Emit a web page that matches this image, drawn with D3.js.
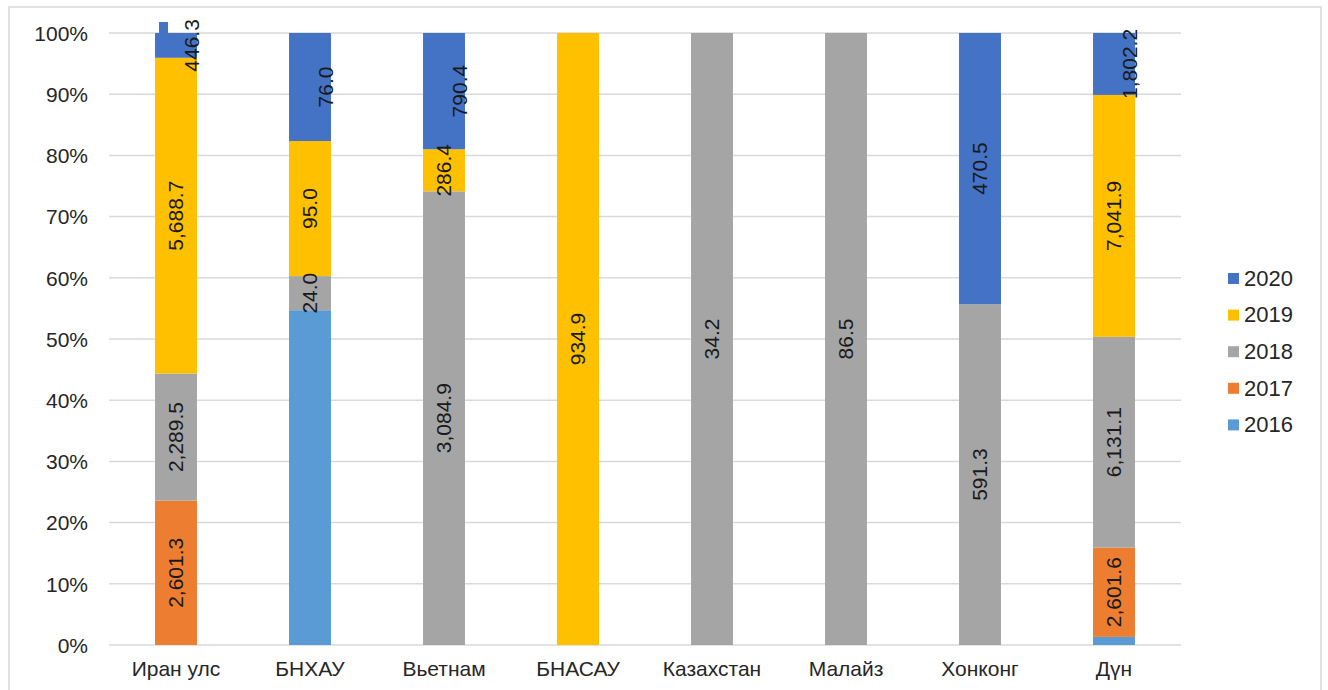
<!DOCTYPE html>
<html>
<head>
<meta charset="utf-8">
<script src="https://cdn.jsdelivr.net/npm/d3@7"></script>
<style>
  html, body { margin: 0; padding: 0; background: #fff; }
  svg { display: block; font-family: "Liberation Sans", Arial, sans-serif; }
</style>
</head>
<body>
<svg id="chart" width="1328" height="690"></svg>
<script>
// ---- data ----
const categories = ["Иран улс", "БНХАУ", "Вьетнам", "БНАСАУ", "Казахстан", "Малайз", "Хонконг", "Дүн"];
const seriesNames = ["2016", "2017", "2018", "2019", "2020"];
const v2016 = [0, 235.5, 0, 0, 0, 0, 0, 235.5];
const v2017 = [2601.3, 0, 0, 0, 0, 0, 0, 2601.6];
const v2018 = [2289.5, 24.0, 3084.9, 0, 34.2, 86.5, 591.3, 6131.1];
const v2019 = [5688.7, 95.0, 286.4, 934.9, 0, 0, 0, 7041.9];
const v2020 = [446.3, 76.0, 790.4, 0, 0, 0, 470.5, 1802.2];
const labelledSeries = ["2017", "2018", "2019", "2020"];
const yTicks = [0, 0.1, 0.2, 0.3, 0.4, 0.5, 0.6, 0.7, 0.8, 0.9, 1.0];
const legendOrder = ["2020", "2019", "2018", "2017", "2016"];

const colors = { "2016": "#5B9BD5", "2017": "#ED7D31", "2018": "#A5A5A5", "2019": "#FFC000", "2020": "#4472C4" };

const valuesBySeries = { "2016": v2016, "2017": v2017, "2018": v2018, "2019": v2019, "2020": v2020 };
const table = categories.map((c, i) => {
  const row = { cat: c };
  seriesNames.forEach(s => row[s] = valuesBySeries[s][i]);
  return row;
});

const svg = d3.select("#chart");

// outer frame
svg.append("rect").attr("x", 9).attr("y", 7).attr("width", 1312).attr("height", 700)
  .attr("fill", "#fff").attr("stroke", "#d9d9d9").attr("stroke-width", 1.5);

const plotLeft = 109, plotRight = 1181, plotTop = 33, plotBottom = 645;

const x = d3.scaleBand().domain(categories).range([plotLeft, plotRight]).paddingInner(0.687).paddingOuter(0.3435);
const y = d3.scaleLinear().domain([0, 1]).range([plotBottom, plotTop]);

// gridlines
svg.append("g").selectAll("line").data(yTicks).join("line")
  .attr("x1", plotLeft).attr("x2", plotRight)
  .attr("y1", d => y(d)).attr("y2", d => y(d))
  .attr("stroke", "#d9d9d9").attr("stroke-width", 1.5);

// y axis labels
const yAxis = d3.axisLeft(y).tickValues(yTicks).tickFormat(d3.format(".0%")).tickSize(0).tickPadding(0);
const ya = svg.append("g").attr("transform", `translate(${plotLeft - 21},0)`).call(yAxis);
ya.select(".domain").remove();
ya.selectAll("text").attr("font-size", 21).attr("fill", "#262626")
  .attr("font-family", "Liberation Sans, Arial, sans-serif").attr("dy", "0.35em");

// x axis labels
const xAxis = d3.axisBottom(x).tickSize(0).tickPadding(0);
const xa = svg.append("g").attr("transform", `translate(0,${plotBottom + 16})`).call(xAxis);
xa.select(".domain").remove();
xa.selectAll("text").attr("font-size", 21).attr("fill", "#262626")
  .attr("font-family", "Liberation Sans, Arial, sans-serif").attr("dy", "0.71em");

// stack
const stack = d3.stack().keys(seriesNames).offset(d3.stackOffsetExpand);
const stacked = stack(table);

const groups = svg.append("g").selectAll("g").data(stacked).join("g")
  .attr("fill", d => colors[d.key]);
groups.selectAll("rect").data(d => d.map(p => ({ p, key: d.key }))).join("rect")
  .attr("x", d => x(d.p.data.cat))
  .attr("width", x.bandwidth())
  .attr("y", d => y(d.p[1]))
  .attr("height", d => Math.max(0, y(d.p[0]) - y(d.p[1])));

// small marker tab above first column (from reference)
svg.append("rect")
  .attr("x", x(categories[0]) + 4).attr("y", y(1) - 11)
  .attr("width", 9).attr("height", 11).attr("fill", colors["2020"]);

// data labels
const fmt = d3.format(",.1f");
const labels = [];
stacked.forEach(layer => {
  if (!labelledSeries.includes(layer.key)) return;
  layer.forEach(p => {
    const val = p.data[layer.key];
    if (!val) return;
    const nonZero = seriesNames.filter(s => p.data[s] > 0).length;
    const shift = (layer.key === "2020" && nonZero > 2) ? 16 : 0;
    labels.push({
      cx: x(p.data.cat) + x.bandwidth() / 2 + shift,
      cy: (y(p[0]) + y(p[1])) / 2,
      text: fmt(val)
    });
  });
});
svg.append("g").selectAll("text").data(labels).join("text")
  .attr("transform", d => `translate(${d.cx},${d.cy}) rotate(-90)`)
  .attr("text-anchor", "middle").attr("dy", "0.35em")
  .attr("font-size", 21).attr("fill", "#1a1a1a")
  .text(d => d.text);

// legend
const lg = svg.append("g").selectAll("g").data(legendOrder).join("g")
  .attr("transform", (d, i) => `translate(1228,${278 + i * 36.6})`);
lg.append("rect").attr("x", 0).attr("y", -5).attr("width", 11).attr("height", 11)
  .attr("fill", d => colors[d]);
lg.append("text").attr("x", 16).attr("dy", "0.35em").attr("font-size", 22)
  .attr("fill", "#262626").text(d => d);
</script>
</body>
</html>
